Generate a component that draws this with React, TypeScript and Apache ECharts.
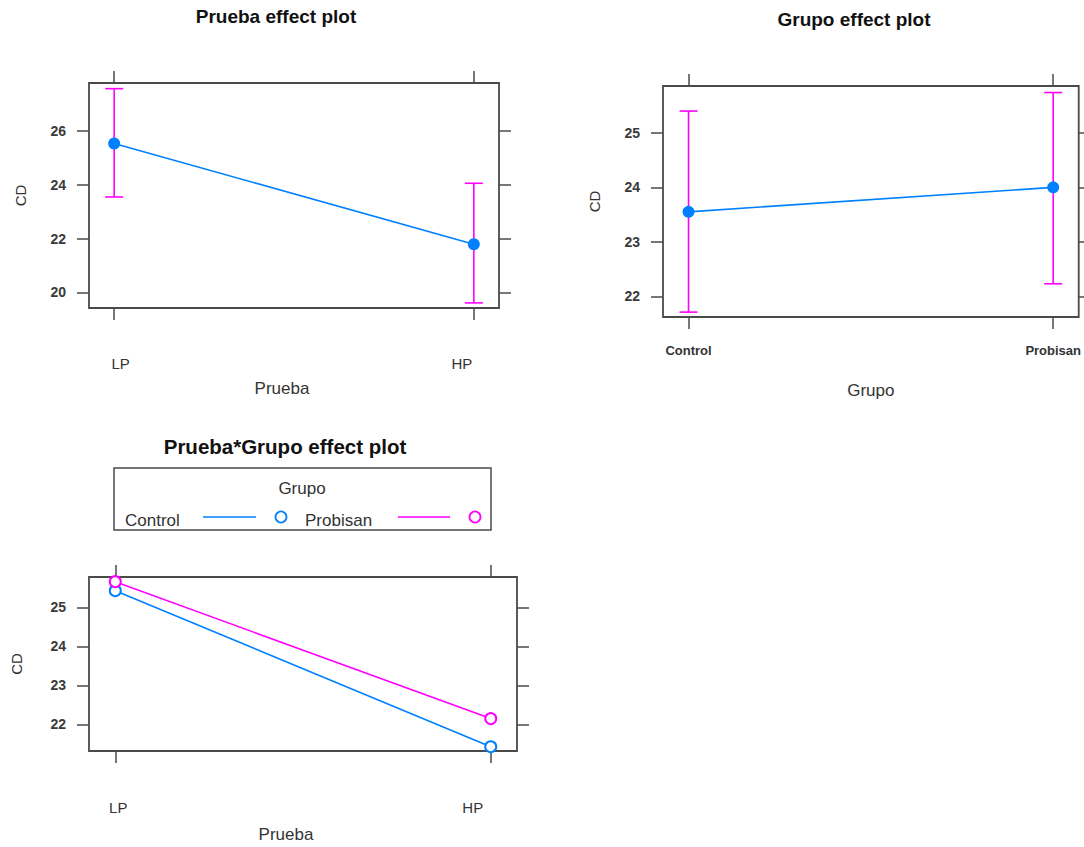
import React, { useEffect, useRef } from "react";
import * as echarts from "echarts";

const pruebaCats = ["LP", "HP"];
const grupoCats = ["Control", "Probisan"];

const pruebaFit = [25.54, 21.79];
const pruebaLower = [23.55, 19.61];
const pruebaUpper = [27.58, 24.06];

const grupoFit = [23.55, 24.0];
const grupoLower = [21.71, 22.23];
const grupoUpper = [25.4, 25.74];

const interControl = [25.43, 21.43];
const interProbisan = [25.66, 22.15];

const yTicks1 = [20, 22, 24, 26];
const yTicks2 = [22, 23, 24, 25];
const yTicks3 = [22, 23, 24, 25];

const BLUE = "#0080ff";
const MAGENTA = "#ff00ff";
const FRAME = "#4a4a4a";
const TXT = "#333333";
const FONT = "'Liberation Sans', Arial, sans-serif";

export default function App() {
  const ref = useRef<HTMLDivElement>(null);

  useEffect(() => {
    if (!ref.current) return;
    const chart = echarts.init(ref.current, undefined, { renderer: "svg" });

    const grids = [
      { left: 89, top: 83, width: 410, height: 225 },
      { left: 663, top: 86, width: 418, height: 231 },
      { left: 89, top: 577, width: 428, height: 174 },
    ];

    const panels = [
      { cats: pruebaCats, yMin: 19.42, yMax: 27.79, ticks: yTicks1, xName: "Prueba", labMargin: 48, labSize: 15, labBold: false,
        pads: [[0, 0, 0, 13], [0, 24, 0, 0]], nameGap: 72, namePad: [0, 24, 0, 0], yNameGap: 61 },
      { cats: grupoCats, yMin: 21.62, yMax: 25.86, ticks: yTicks2, xName: "Grupo", labMargin: 27, labSize: 13, labBold: true,
        pads: [[0, 0, 0, 0], [0, 0, 0, 0]], nameGap: 65, namePad: [0, 0, 0, 0], yNameGap: 61 },
      { cats: pruebaCats, yMin: 21.32, yMax: 25.78, ticks: yTicks3, xName: "Prueba", labMargin: 49, labSize: 15, labBold: false,
        pads: [[0, 0, 0, 6], [0, 36, 0, 0]], nameGap: 75, namePad: [0, 34, 0, 0], yNameGap: 65 },
    ];

    const tickStyle = { color: FRAME, width: 1.5 };
    const xAxis: any[] = [];
    const yAxis: any[] = [];
    panels.forEach((p, i) => {
      const labStyle = { fontSize: p.labSize, color: TXT, fontFamily: FONT, fontWeight: p.labBold ? "bold" : "normal" };
      xAxis.push({
        type: "value", gridIndex: i, min: 0.93, max: 2.07, position: "bottom",
        axisLine: { show: false, onZero: false },
        axisTick: { show: true, length: 12, customValues: [1, 2], lineStyle: tickStyle },
        axisLabel: {
          customValues: [1, 2], margin: p.labMargin, ...labStyle,
          formatter: (v: number) => {
            const k = Math.round(v) - 1;
            return `{c${k}|${p.cats[k] ?? ""}}`;
          },
          rich: {
            c0: { ...labStyle, padding: p.pads[0] },
            c1: { ...labStyle, padding: p.pads[1] },
          },
        },
        splitLine: { show: false },
        name: p.xName, nameLocation: "middle", nameGap: p.nameGap,
        nameTextStyle: { fontSize: 17, color: TXT, fontFamily: FONT, padding: p.namePad },
      });
      xAxis.push({
        type: "value", gridIndex: i, min: 0.93, max: 2.07, position: "top",
        axisLine: { show: false, onZero: false },
        axisTick: { show: true, length: 12, customValues: [1, 2], lineStyle: tickStyle },
        axisLabel: { show: false },
        splitLine: { show: false },
      });
      yAxis.push({
        type: "value", gridIndex: i, min: p.yMin, max: p.yMax, position: "left",
        axisLine: { show: false, onZero: false },
        axisTick: { show: true, length: 12, customValues: p.ticks, lineStyle: tickStyle },
        axisLabel: { customValues: p.ticks, margin: 23, fontSize: 14, fontWeight: "bold", color: "#3a3a3a", fontFamily: FONT },
        splitLine: { show: false },
        name: "CD", nameLocation: "middle", nameGap: p.yNameGap,
        nameTextStyle: { fontSize: 15, color: TXT, fontFamily: FONT },
      });
      yAxis.push({
        type: "value", gridIndex: i, min: p.yMin, max: p.yMax, position: "right",
        axisLine: { show: false, onZero: false },
        axisTick: { show: true, length: 12, customValues: p.ticks, lineStyle: tickStyle },
        axisLabel: { show: false },
        splitLine: { show: false },
      });
    });

    const errorBar = (xi: number, yi: number, lower: number[], upper: number[]) => ({
      type: "custom",
      xAxisIndex: xi,
      yAxisIndex: yi,
      clip: false,
      z: 2,
      data: lower.map((lo, i) => [i + 1, lo, upper[i]]),
      renderItem: (_params: any, api: any) => {
        const x = api.value(0);
        const lo = api.coord([x, api.value(1)]);
        const hi = api.coord([x, api.value(2)]);
        const st = { stroke: MAGENTA, lineWidth: 1.6 };
        return {
          type: "group",
          children: [
            { type: "line", shape: { x1: lo[0], y1: lo[1], x2: hi[0], y2: hi[1] }, style: st },
            { type: "line", shape: { x1: lo[0] - 9, y1: lo[1], x2: lo[0] + 9, y2: lo[1] }, style: st },
            { type: "line", shape: { x1: hi[0] - 9, y1: hi[1], x2: hi[0] + 9, y2: hi[1] }, style: st },
          ],
        };
      },
    });

    const series: any[] = [
      errorBar(0, 0, pruebaLower, pruebaUpper),
      {
        type: "line", xAxisIndex: 0, yAxisIndex: 0, z: 3,
        data: pruebaFit.map((v, i) => [i + 1, v]),
        symbol: "circle", symbolSize: 12,
        itemStyle: { color: BLUE },
        lineStyle: { color: BLUE, width: 1.6 },
      },
      errorBar(2, 2, grupoLower, grupoUpper),
      {
        type: "line", xAxisIndex: 2, yAxisIndex: 2, z: 3,
        data: grupoFit.map((v, i) => [i + 1, v]),
        symbol: "circle", symbolSize: 12,
        itemStyle: { color: BLUE },
        lineStyle: { color: BLUE, width: 1.6 },
      },
      {
        name: "Control",
        type: "line", xAxisIndex: 4, yAxisIndex: 4, z: 3,
        data: interControl.map((v, i) => [i + 1, v]),
        symbol: "emptyCircle", symbolSize: 11, clip: false,
        itemStyle: { color: BLUE, borderWidth: 1.5 },
        lineStyle: { color: BLUE, width: 1.6 },
      },
      {
        name: "Probisan",
        type: "line", xAxisIndex: 4, yAxisIndex: 4, z: 3,
        data: interProbisan.map((v, i) => [i + 1, v]),
        symbol: "emptyCircle", symbolSize: 11, clip: false,
        itemStyle: { color: MAGENTA, borderWidth: 1.5 },
        lineStyle: { color: MAGENTA, width: 1.6 },
      },
    ];

    const titleStyle = { fontSize: 19, fontWeight: "bold", fill: "#111", fontFamily: FONT, textAlign: "center", textVerticalAlign: "middle" };
    const legTxt = { fontSize: 17, fill: TXT, fontFamily: FONT, textVerticalAlign: "middle" };

    const graphic: any[] = [
      { type: "text", x: 276, y: 16.5, style: { ...titleStyle, text: "Prueba effect plot" } },
      { type: "text", x: 854, y: 19.5, style: { ...titleStyle, text: "Grupo effect plot" } },
      { type: "text", x: 285, y: 446, style: { ...titleStyle, fontSize: 20.5, text: "Prueba*Grupo effect plot" } },
      { type: "rect", shape: { x: 114, y: 468, width: 377, height: 62 }, style: { fill: "none", stroke: FRAME, lineWidth: 1.5 } },
      { type: "text", x: 302, y: 488, style: { ...legTxt, text: "Grupo", textAlign: "center" } },
      { type: "text", x: 125, y: 520, style: { ...legTxt, text: "Control", textAlign: "left" } },
      { type: "line", shape: { x1: 203, y1: 517, x2: 256, y2: 517 }, style: { stroke: BLUE, lineWidth: 1.5 } },
      { type: "circle", shape: { cx: 281, cy: 517, r: 5.5 }, style: { fill: "none", stroke: BLUE, lineWidth: 1.8 } },
      { type: "text", x: 305, y: 520, style: { ...legTxt, text: "Probisan", textAlign: "left" } },
      { type: "line", shape: { x1: 398, y1: 517, x2: 450, y2: 517 }, style: { stroke: MAGENTA, lineWidth: 1.5 } },
      { type: "circle", shape: { cx: 475, cy: 517, r: 5.5 }, style: { fill: "none", stroke: MAGENTA, lineWidth: 1.8 } },
    ];

    chart.setOption({
      animation: false,
      backgroundColor: "#ffffff",
      textStyle: { fontFamily: FONT },
      grid: grids.map((g) => ({ ...g, show: true, borderColor: FRAME, borderWidth: 1.8, backgroundColor: "transparent", containLabel: false })),
      xAxis,
      yAxis,
      series,
      graphic,
    });

    return () => chart.dispose();
  }, []);

  return <div ref={ref} style={{ position: "fixed", left: 0, top: 0, width: 1084, height: 847, background: "#fff" }} />;
}
